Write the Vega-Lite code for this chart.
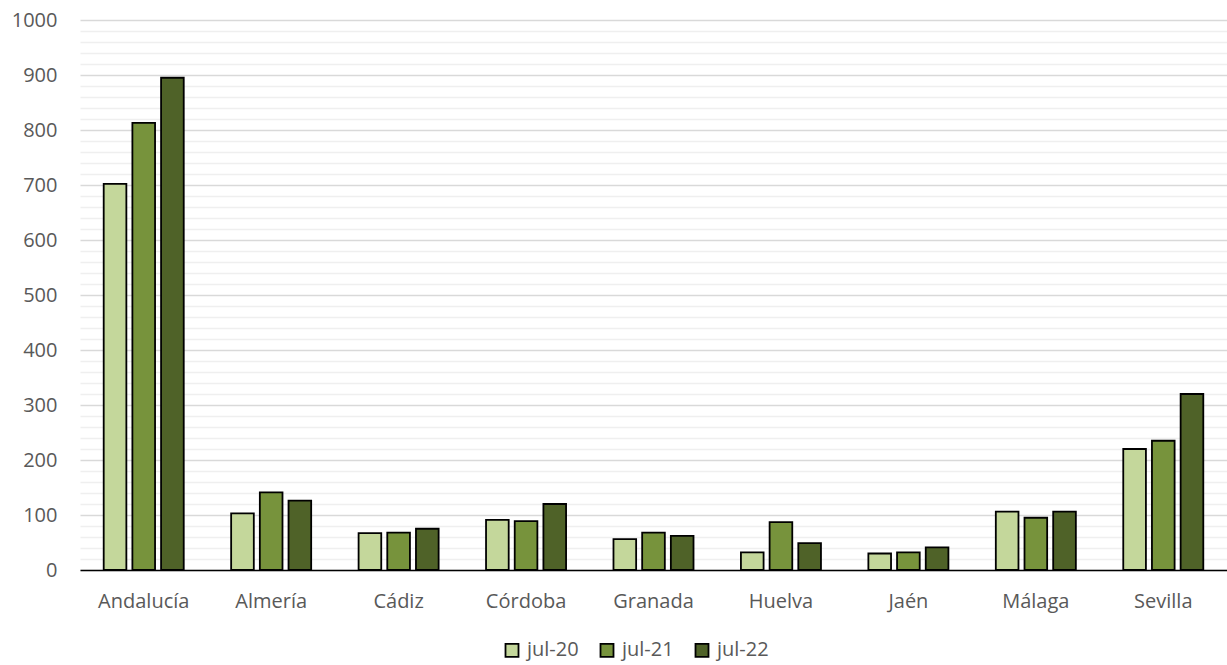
{
  "$schema": "https://vega.github.io/schema/vega-lite/v6.json",
  "width": 1147,
  "height": 550,
  "autosize": {"type": "none"},
  "padding": {"left": 80, "top": 20, "right": 0, "bottom": 95},
  "background": "white",
  "data": {
    "values": [
      {"provincia": "Andalucía", "mes": "jul-20", "valor": 702},
      {"provincia": "Andalucía", "mes": "jul-21", "valor": 813},
      {"provincia": "Andalucía", "mes": "jul-22", "valor": 895},
      {"provincia": "Almería", "mes": "jul-20", "valor": 103},
      {"provincia": "Almería", "mes": "jul-21", "valor": 141},
      {"provincia": "Almería", "mes": "jul-22", "valor": 126},
      {"provincia": "Cádiz", "mes": "jul-20", "valor": 67},
      {"provincia": "Cádiz", "mes": "jul-21", "valor": 68},
      {"provincia": "Cádiz", "mes": "jul-22", "valor": 75},
      {"provincia": "Córdoba", "mes": "jul-20", "valor": 91},
      {"provincia": "Córdoba", "mes": "jul-21", "valor": 89},
      {"provincia": "Córdoba", "mes": "jul-22", "valor": 120},
      {"provincia": "Granada", "mes": "jul-20", "valor": 56},
      {"provincia": "Granada", "mes": "jul-21", "valor": 68},
      {"provincia": "Granada", "mes": "jul-22", "valor": 62},
      {"provincia": "Huelva", "mes": "jul-20", "valor": 32},
      {"provincia": "Huelva", "mes": "jul-21", "valor": 87},
      {"provincia": "Huelva", "mes": "jul-22", "valor": 49},
      {"provincia": "Jaén", "mes": "jul-20", "valor": 30},
      {"provincia": "Jaén", "mes": "jul-21", "valor": 32},
      {"provincia": "Jaén", "mes": "jul-22", "valor": 41},
      {"provincia": "Málaga", "mes": "jul-20", "valor": 106},
      {"provincia": "Málaga", "mes": "jul-21", "valor": 95},
      {"provincia": "Málaga", "mes": "jul-22", "valor": 106},
      {"provincia": "Sevilla", "mes": "jul-20", "valor": 220},
      {"provincia": "Sevilla", "mes": "jul-21", "valor": 235},
      {"provincia": "Sevilla", "mes": "jul-22", "valor": 320}
    ]
  },
  "mark": {"type": "bar", "stroke": "black", "strokeWidth": 1.8},
  "encoding": {
    "x": {
      "field": "provincia",
      "type": "nominal",
      "sort": null,
      "scale": {"paddingInner": 0.372, "paddingOuter": 0.186},
      "axis": {
        "title": null,
        "labelAngle": 0,
        "ticks": false,
        "domainColor": "black",
        "domainWidth": 1.5,
        "labelFont": "Open Sans",
        "labelFontSize": 20,
        "labelColor": "#595959",
        "labelPadding": 21,
        "grid": false
      }
    },
    "xOffset": {
      "field": "mes",
      "type": "nominal",
      "scale": {"paddingInner": 0.21}
    },
    "y": {
      "field": "valor",
      "type": "quantitative",
      "scale": {"domain": [0, 1000], "nice": false},
      "axis": {
        "title": null,
        "format": "d",
        "values": [0, 20, 40, 60, 80, 100, 120, 140, 160, 180, 200, 220, 240, 260, 280, 300, 320, 340, 360, 380, 400, 420, 440, 460, 480, 500, 520, 540, 560, 580, 600, 620, 640, 660, 680, 700, 720, 740, 760, 780, 800, 820, 840, 860, 880, 900, 920, 940, 960, 980, 1000],
        "labelExpr": "datum.value % 100 === 0 ? datum.label : ''",
        "domain": false,
        "ticks": false,
        "grid": true,
        "gridColor": {"condition": {"test": "datum.value % 100 === 0", "value": "#d9d9d9"}, "value": "#efefef"},
        "gridWidth": 1.5,
        "labelFont": "Open Sans",
        "labelFontSize": 20,
        "labelColor": "#595959",
        "labelPadding": 23
      }
    },
    "fill": {
      "field": "mes",
      "type": "nominal",
      "scale": {"domain": ["jul-20", "jul-21", "jul-22"], "range": ["#C4D79B", "#77933C", "#4F6228"]},
      "legend": {
        "title": null,
        "orient": "none",
        "direction": "horizontal",
        "legendX": 422,
        "legendY": 620,
        "symbolType": "square",
        "symbolSize": 169,
        "symbolStrokeColor": "black",
        "symbolStrokeWidth": 1.8,
        "labelFont": "Open Sans",
        "labelFontSize": 20,
        "labelColor": "#595959",
        "labelOffset": 5,
        "columnPadding": 17
      }
    }
  },
  "config": {"view": {"stroke": null}}
}
